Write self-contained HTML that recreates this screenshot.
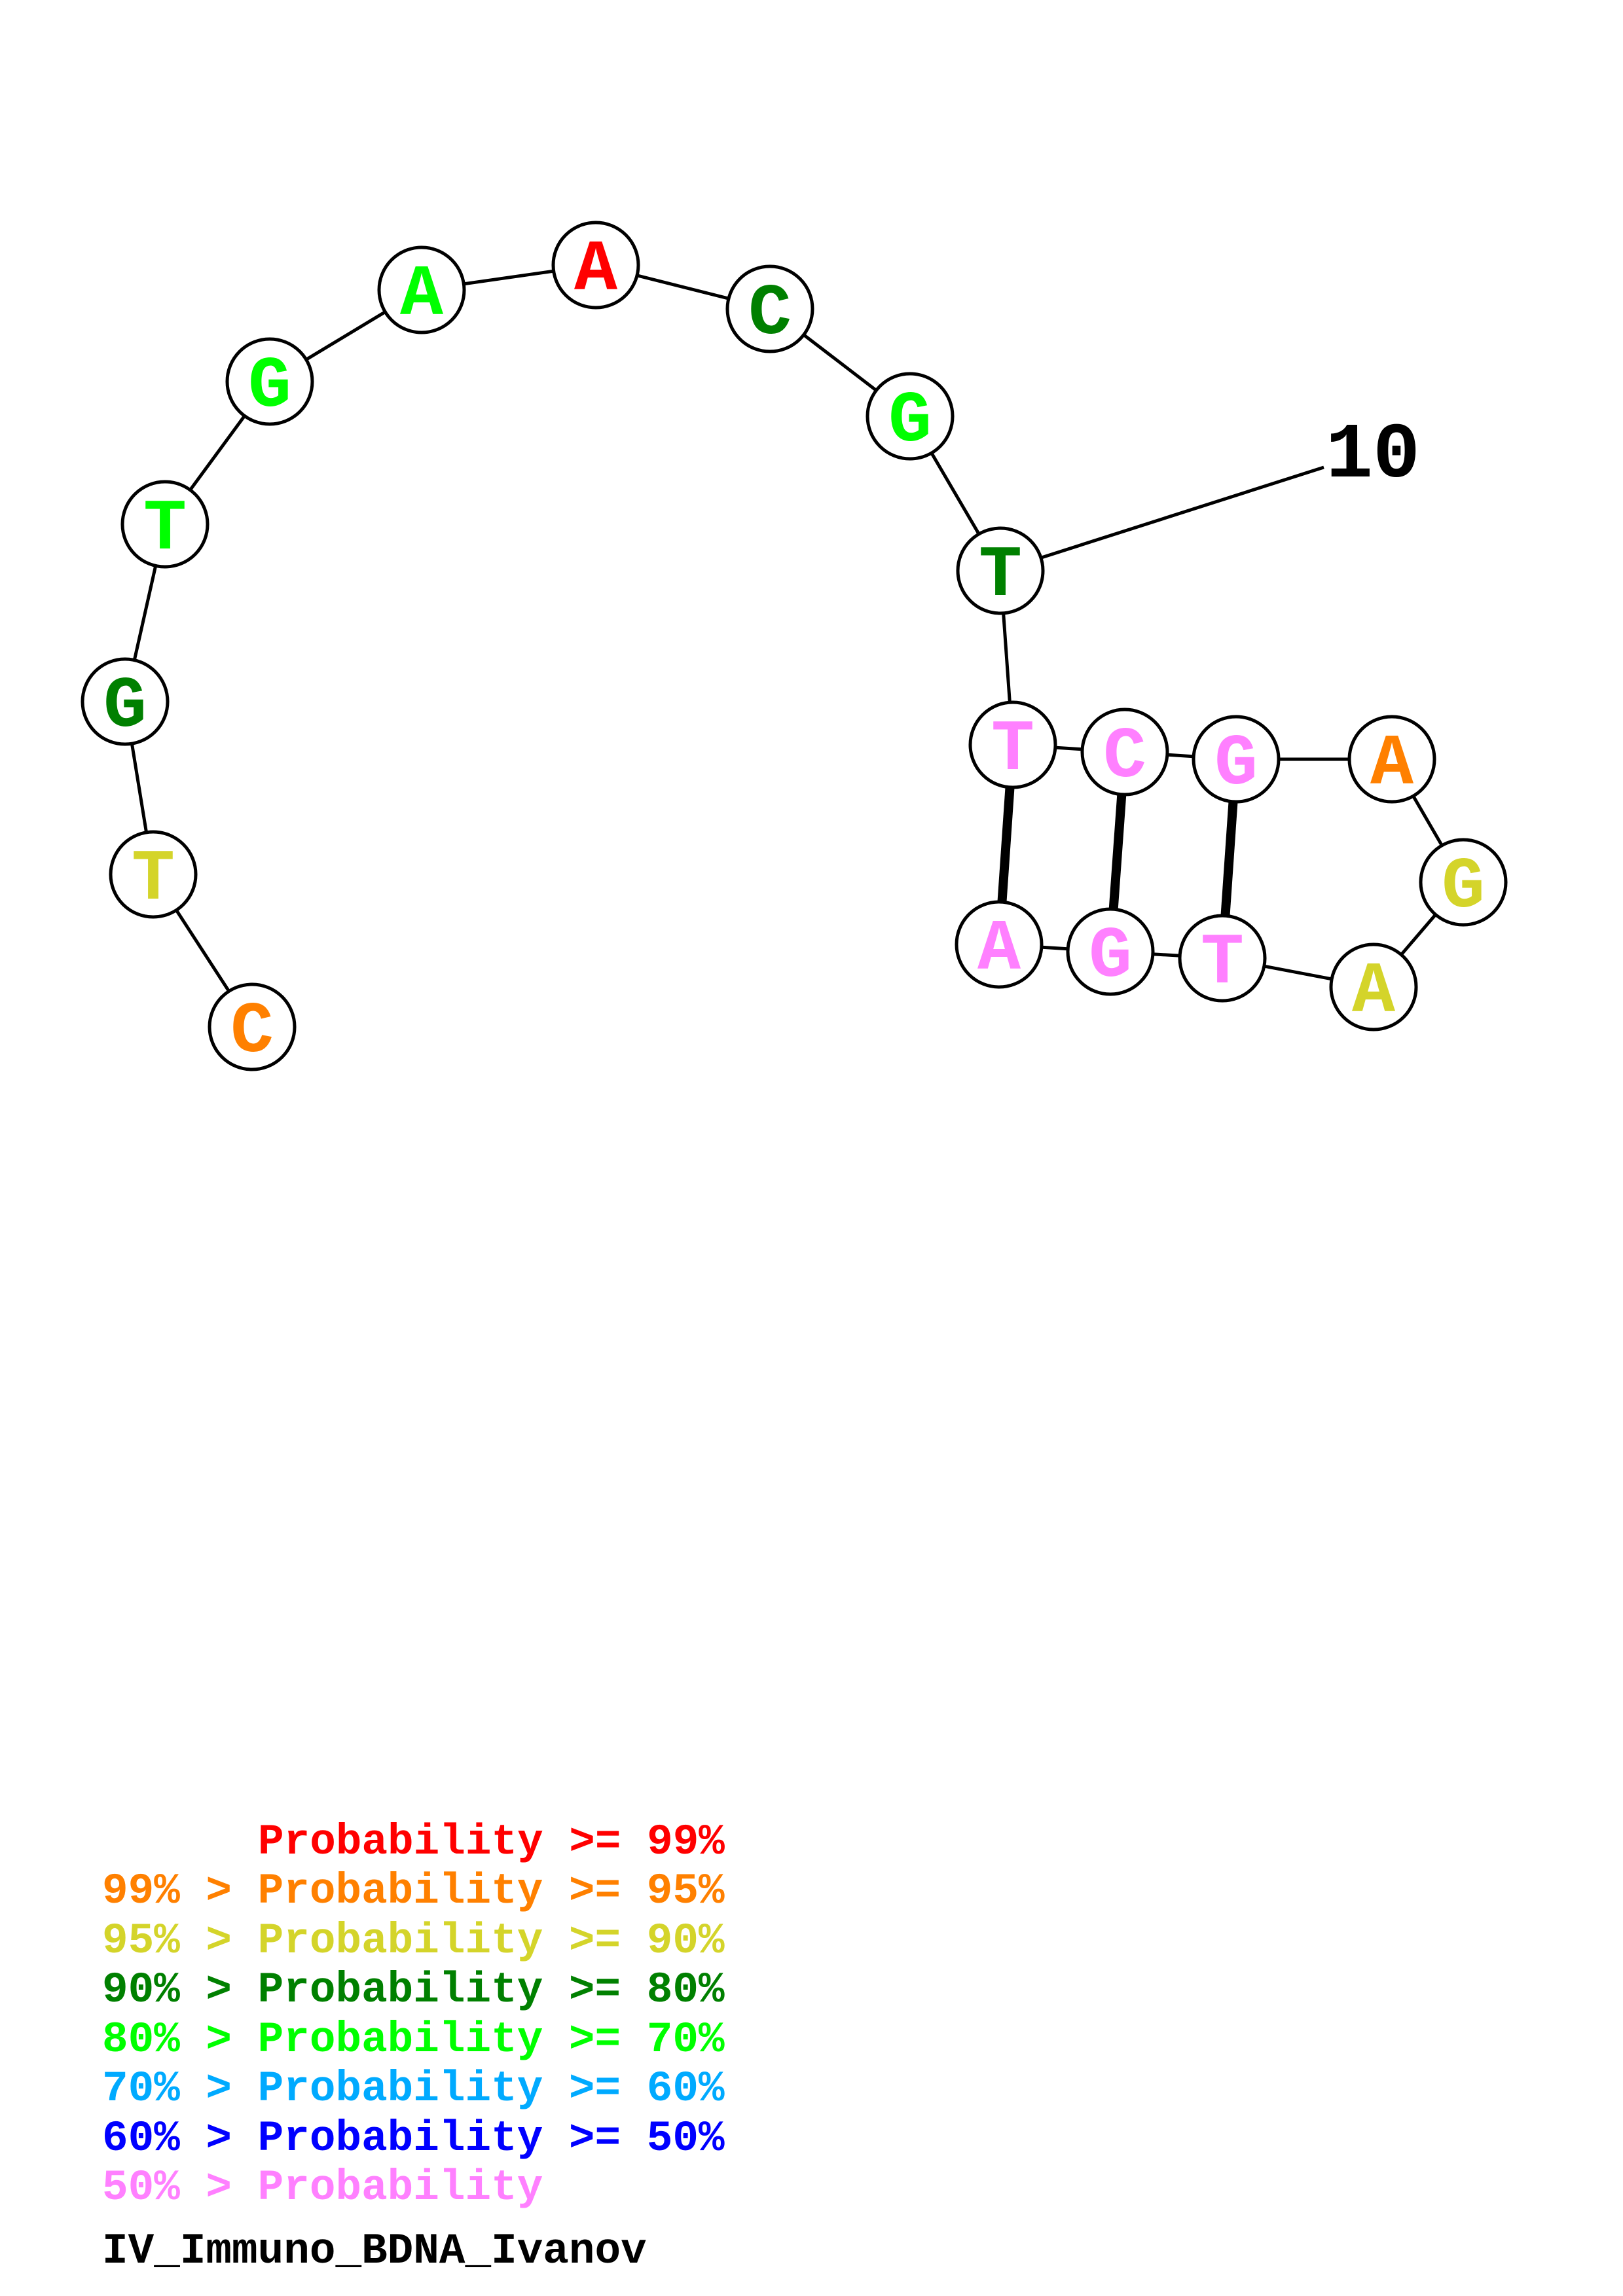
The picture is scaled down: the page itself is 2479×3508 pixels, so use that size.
<!DOCTYPE html>
<html><head><meta charset="utf-8"><style>body{margin:0;background:#fff}svg{display:block}</style></head>
<body>
<svg width="2479" height="3508" viewBox="0 0 2479 3508" xmlns="http://www.w3.org/2000/svg">
<g transform="translate(-5,-2)">
<g stroke="#000" stroke-width="5" fill="none">
<polyline points="390,1571 239,1338 196,1074 257,803 417,585 649,445 915,407 1181,474 1395,638 1533,874 1552,1140 1723,1151 1893,1162 2131,1162 2240,1350 2103,1510 1872,1466 1701,1456 1531,1445"/>
<line x1="1533" y1="874" x2="2027" y2="716"/>
</g>
<g stroke="#000" stroke-width="14">
<line x1="1552" y1="1140" x2="1531" y2="1445"/>
<line x1="1723" y1="1151" x2="1701" y2="1456"/>
<line x1="1893" y1="1162" x2="1872" y2="1466"/>
</g>
<g stroke="#000" stroke-width="5" fill="#fff">
<circle cx="390" cy="1571" r="65"/><circle cx="239" cy="1338" r="65"/><circle cx="196" cy="1074" r="65"/><circle cx="257" cy="803" r="65"/><circle cx="417" cy="585" r="65"/><circle cx="649" cy="445" r="65"/><circle cx="915" cy="407" r="65"/><circle cx="1181" cy="474" r="65"/><circle cx="1395" cy="638" r="65"/><circle cx="1533" cy="874" r="65"/><circle cx="1552" cy="1140" r="65"/><circle cx="1723" cy="1151" r="65"/><circle cx="1893" cy="1162" r="65"/><circle cx="2131" cy="1162" r="65"/><circle cx="2240" cy="1350" r="65"/><circle cx="2103" cy="1510" r="65"/><circle cx="1872" cy="1466" r="65"/><circle cx="1701" cy="1456" r="65"/><circle cx="1531" cy="1445" r="65"/>
</g>
<g font-family="Liberation Mono, monospace" font-weight="bold" font-size="110" text-anchor="middle">
<text x="390" y="1608" fill="#ff8000">C</text>
<text x="239" y="1375" fill="#d4d42a">T</text>
<text x="196" y="1111" fill="#008000">G</text>
<text x="257" y="840" fill="#00ff00">T</text>
<text x="417" y="622" fill="#00ff00">G</text>
<text x="649" y="482" fill="#00ff00">A</text>
<text x="915" y="444" fill="#ff0000">A</text>
<text x="1181" y="511" fill="#008000">C</text>
<text x="1395" y="675" fill="#00ff00">G</text>
<text x="1533" y="911" fill="#008000">T</text>
<text x="1552" y="1177" fill="#ff80ff">T</text>
<text x="1723" y="1188" fill="#ff80ff">C</text>
<text x="1893" y="1199" fill="#ff80ff">G</text>
<text x="2131" y="1199" fill="#ff8000">A</text>
<text x="2240" y="1387" fill="#d4d42a">G</text>
<text x="2103" y="1547" fill="#d4d42a">A</text>
<text x="1872" y="1503" fill="#ff80ff">T</text>
<text x="1701" y="1493" fill="#ff80ff">G</text>
<text x="1531" y="1482" fill="#ff80ff">A</text>
</g>
<text x="2030" y="730" font-family="Liberation Mono, monospace" font-weight="bold" font-size="120" fill="#000">10</text>
</g>
<g font-family="Liberation Mono, monospace" font-weight="bold" font-size="66">
<text x="394" y="2832" fill="#ff0000">Probability &gt;= 99%</text>
<text x="156" y="2907" fill="#ff8000">99% &gt; Probability &gt;= 95%</text>
<text x="156" y="2983" fill="#d4d42a">95% &gt; Probability &gt;= 90%</text>
<text x="156" y="3058" fill="#008000">90% &gt; Probability &gt;= 80%</text>
<text x="156" y="3134" fill="#00ff00">80% &gt; Probability &gt;= 70%</text>
<text x="156" y="3209" fill="#00aaff">70% &gt; Probability &gt;= 60%</text>
<text x="156" y="3285" fill="#0000ff">60% &gt; Probability &gt;= 50%</text>
<text x="156" y="3360" fill="#ff80ff">50% &gt; Probability</text>
<text x="156" y="3457" fill="#000">IV_Immuno_BDNA_Ivanov</text>
</g>
</svg>
</body></html>
